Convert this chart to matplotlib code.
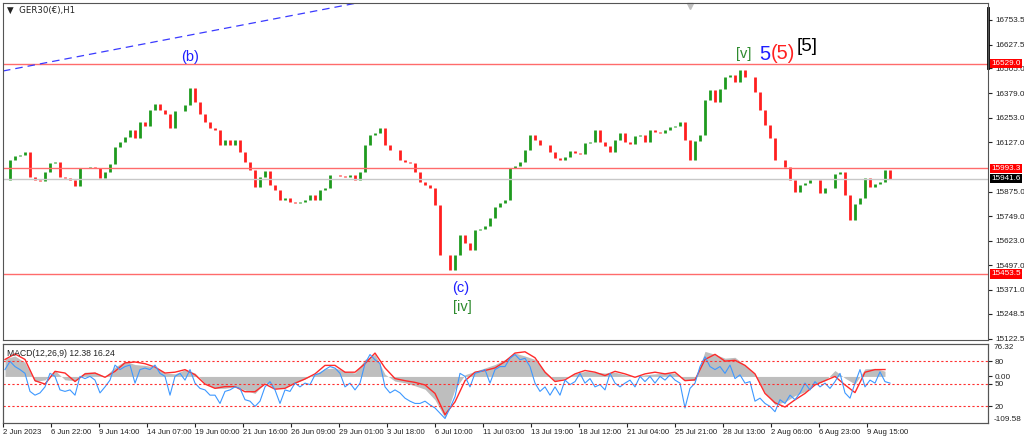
import numpy as np
import matplotlib.pyplot as plt
from matplotlib.transforms import blended_transform_factory

plt.rcParams['font.family'] = ['Liberation Sans', 'DejaVu Sans']

# GER30 H1 closes, one value every few hours
closes = [15934, 16036, 16057, 16062, 16077, 15949, 15934, 15929, 15975, 16021,
          16026, 15949, 15944, 15934, 15903, 15995, 15995, 16001, 15995, 15944,
          15975, 16016, 16103, 16129, 16154, 16190, 16149, 16231, 16211, 16293,
          16323, 16293, 16272, 16200, 16287, 16287, 16318, 16405, 16334, 16272,
          16231, 16200, 16190, 16113, 16139, 16113, 16139, 16077, 16026, 15985,
          15898, 15949, 15980, 15908, 15883, 15832, 15842, 15821, 15816, 15821,
          15832, 15857, 15832, 15883, 15893, 15960, 15960, 15954, 15949, 15960,
          15934, 15975, 16113, 16165, 16175, 16200, 16113, 16088, 16088, 16036,
          16026, 16021, 15975, 15924, 15908, 15893, 15806, 15550, 15550, 15473,
          15550, 15652, 15611, 15575, 15678, 15683, 15698, 15739, 15796, 15816,
          15832, 15995, 16006, 16026, 16088, 16165, 16139, 16113, 16113, 16077,
          16047, 16036, 16052, 16083, 16072, 16067, 16124, 16129, 16190, 16129,
          16108, 16077, 16139, 16175, 16129, 16118, 16159, 16165, 16129, 16190,
          16180, 16175, 16190, 16205, 16211, 16231, 16139, 16036, 16134, 16165,
          16344, 16395, 16334, 16400, 16462, 16472, 16436, 16497, 16462, 16462,
          16385, 16293, 16216, 16149, 16036, 16036, 16001, 15934, 15873, 15908,
          15919, 15934, 15934, 15867, 15893, 15893, 15965, 15975, 15857, 15729,
          15811, 15842, 15944, 15898, 15914, 15924, 15985, 15941.6]

# MACD(12,26,9) main (grey) and signal (red), one value every second bar
macd_main = [42, 48, 33, -12, -8, 14, -8, -10, 10, 10,
             0, 22, 36, 28, 26, 22, 8, 6, 16, 8,
             -16, -28, -28, -24, -32, -40, -14, -28, -26, -16,
             -6, 6, 18, 20, 12, 8, 40, 52, 5, -11,
             -15, -22, -30, -55, -98, -30, 4, 12, 20, 28,
             40, 55, 48, 40, 12, -10, -4, 6, 12, 10,
             8, 10, 4, 0, 4, 6, 8, 8, -8, -10,
             59, 52, 43, 45, 26, 5, -38, -66, -60, -45,
             -36, -18, -10, 14, -4, -18, 18, 19, 12.38]
macd_signal = [40, 53, 40, -10, -18, 12, 8, -12, 6, 8,
               -2, 12, 32, 34, 30, 22, 8, 10, 16, 4,
               -18, -28, -24, -24, -36, -36, -18, -30, -28, -16,
               -6, 6, 26, 26, 10, 10, 30, 55, 20, -5,
               -10, -14, -20, -40, -90, -60, -10, 10, 14, 20,
               35, 55, 58, 44, 10, -12, -8, 6, 14, 10,
               2, 12, 6, -2, 6, 10, 6, 10, -10, -8,
               40, 52, 36, 38, 26, 6, -40, -62, -72, -55,
               -40, -20, -10, 0, -20, -38, 10, 16, 16.24]

# blue oscillator (0-100 scale, levels 80/50/20), one value per bar
osc = [69, 80, 73, 69, 64, 40, 35, 38, 46, 64, 60, 42, 40, 42, 35, 60, 57, 60, 55, 38,
       46, 55, 75, 69, 73, 75, 51, 69, 71, 69, 75, 64, 60, 35, 60, 64, 55, 69, 51, 44,
       42, 35, 35, 24, 40, 42, 46, 44, 29, 27, 20, 27, 46, 53, 42, 24, 42, 40, 51, 46,
       51, 49, 62, 64, 69, 73, 71, 64, 46, 51, 42, 51, 77, 89, 82, 77, 46, 38, 42, 38,
       31, 27, 24, 24, 27, 22, 18, 11, 4, 18, 33, 64, 60, 46, 64, 66, 69, 51, 69, 73,
       73, 84, 89,
       82, 84, 73, 51, 40, 46, 35, 46, 35, 55, 49, 53, 64, 51, 57, 46, 49, 42, 64, 51,
       46, 51, 55, 46, 60, 53, 60, 51, 60, 55, 62, 55, 51, 18, 44, 51, 73, 86, 73, 69,
       73, 64, 75, 57, 62, 51, 53, 27, 31, 24, 20, 13, 29, 24, 35, 29, 38, 51, 42, 53,
       46, 51, 44, 53, 64, 38, 31, 51, 69, 46, 55, 51, 66, 53, 51]

date_labels = ['2 Jun 2023', '6 Jun 22:00', '9 Jun 14:00', '14 Jun 07:00', '19 Jun 00:00',
               '21 Jun 16:00', '26 Jun 09:00', '29 Jun 01:00', '3 Jul 18:00', '6 Jul 10:00',
               '11 Jul 03:00', '13 Jul 19:00', '18 Jul 12:00', '21 Jul 04:00', '25 Jul 21:00',
               '28 Jul 13:00', '2 Aug 06:00', '6 Aug 23:00', '9 Aug 15:00']
price_ticks = [16753.5, 16627.5, 16505.0, 16379.0, 16253.0, 16127.0, 15875.0,
               15749.0, 15623.0, 15497.0, 15371.0, 15248.5, 15122.5]
red_levels = [16529.0, 15993.3, 15453.5]
bid = 15941.6
trend_x = [-0.4, 70.4]
trend_y = [16492, 16840]

FS = 5.9
TXT = '#222222'
W, H = 1024, 441
fig = plt.figure(figsize=(W / 100, H / 100), dpi=100, facecolor='white')
ax = fig.add_axes([3 / W, (H - 340) / H, 985 / W, 337 / H])
axm = fig.add_axes([3 / W, (H - 423) / H, 985 / W, 79 / H], sharex=ax)

closes = np.array(closes, dtype=float)
opens = np.concatenate([[closes[0]], closes[:-1]])
idx = np.arange(len(closes))
up = closes >= opens
ax.vlines(idx[up], opens[up], closes[up], color='#1e9a1e', lw=2.0)
ax.vlines(idx[~up], opens[~up], closes[~up], color='#ff1f1f', lw=2.0)

for lv in red_levels:
    ax.axhline(lv, color='#ff6b6b', lw=1.0)
ax.axhline(bid, color='#c8c8c8', lw=1.0)
ax.plot(trend_x, trend_y, color='#3a3aff', lw=0.9, dashes=(6, 4))

ax.set_xlim(-0.4, 196.6)
ax.set_ylim(15115, 16840)
ax.yaxis.tick_right()
ax.set_yticks(price_ticks)
ax.set_yticklabels([f'{p:.1f}' for p in price_ticks])
ax.tick_params(axis='y', labelsize=FS, length=3, pad=2, colors=TXT)
ax.tick_params(axis='x', bottom=False, labelbottom=False)

tr = blended_transform_factory(ax.transAxes, ax.transData)
for lv in red_levels:
    ax.text(1.003, lv, f'{lv:.1f}', transform=tr, fontsize=FS, color='white', va='center',
            ha='left', bbox=dict(boxstyle='square,pad=0.15', fc='#ff0000', ec='none'))
ax.text(1.003, bid, f'{bid:.1f}', transform=tr, fontsize=FS, color='white', va='center',
        ha='left', bbox=dict(boxstyle='square,pad=0.15', fc='#000000', ec='none'))
ax.plot([1.0, 1.0], [0.807, 0.985], transform=ax.transAxes, color='black', lw=2, clip_on=False)

ax.text(0.004, 0.979, '▼  GER30(€),H1', transform=ax.transAxes, fontsize=FS + 0.3,
        color=TXT, va='center', ha='left', family=['DejaVu Sans'])
ax.plot([137], [0.992], transform=blended_transform_factory(ax.transData, ax.transAxes),
        marker='v', color='#c0c0c0', ms=5, clip_on=False)

# Elliott wave labels
ax.text(37, 16564, '(b)', color='#1f1fff', fontsize=10.5, ha='center', va='center')
ax.text(91.2, 15381, '(c)', color='#1f1fff', fontsize=10.5, ha='center', va='center')
ax.text(91.4, 15284, '[iv]', color='#2e8b2e', fontsize=10.5, ha='center', va='center')
ax.text(147.8, 16579, '[v]', color='#2e8b2e', fontsize=10.5, ha='center', va='center')
ax.text(152.0, 16574, '5', color='#1f1fff', fontsize=14.5, ha='center', va='center')
ax.text(155.6, 16584, '(5)', color='#ff2020', fontsize=14.5, ha='center', va='center')
ax.text(160.4, 16618, '[5]', color='black', fontsize=13.5, ha='center', va='center')

# MACD panel
mx = np.arange(0, 2 * len(macd_main), 2)
axm.fill_between(mx, 0, macd_main, color='#bebebe', lw=0)
axm.plot(mx, macd_signal, color='#ff2a2a', lw=1.0)
axm.set_ylim(-109.58, 76.32)

axo = axm.twinx()
axo.plot(idx, osc, color='#3d98ff', lw=0.8)
for lv in [80, 50, 20]:
    axo.axhline(lv, color='#ff3030', lw=0.8, dashes=(2, 2))
axo.set_ylim(-2, 103)
axo.set_yticks([80, 50, 20])
axo.set_yticklabels(['80', '50', '20'])
axo.tick_params(axis='y', labelsize=FS, length=3, pad=2, colors=TXT)

# twinx moves the parent ticks to the left, so put them back on the right
axm.yaxis.tick_right()
axm.set_yticks([0])
axm.set_yticklabels(['0.00'])
axm.tick_params(axis='y', labelsize=FS, length=3, pad=2, colors=TXT)
trm = blended_transform_factory(axm.transAxes, axm.transData)
axm.text(1.006, 76.32, '76.32', transform=trm, fontsize=FS, va='top', ha='left', color=TXT)
axm.text(1.006, -109.58, '-109.58', transform=trm, fontsize=FS, va='bottom', ha='left', color=TXT)
axm.text(0.004, 0.88, 'MACD(12,26,9) 12.38 16.24', transform=axm.transAxes, fontsize=FS + 0.3,
         color=TXT, va='center', ha='left')

tick_pos = np.arange(len(date_labels)) * 9.6 - 0.4
axm.set_xticks(tick_pos)
axm.set_xticklabels(date_labels, ha='left')
axm.tick_params(axis='x', labelsize=5.6, length=3, pad=1, colors=TXT)

for a in (ax, axm, axo):
    for s in a.spines.values():
        s.set_color('#555555')
        s.set_linewidth(0.8)

fig.savefig('out.png', dpi=100, facecolor='white')
